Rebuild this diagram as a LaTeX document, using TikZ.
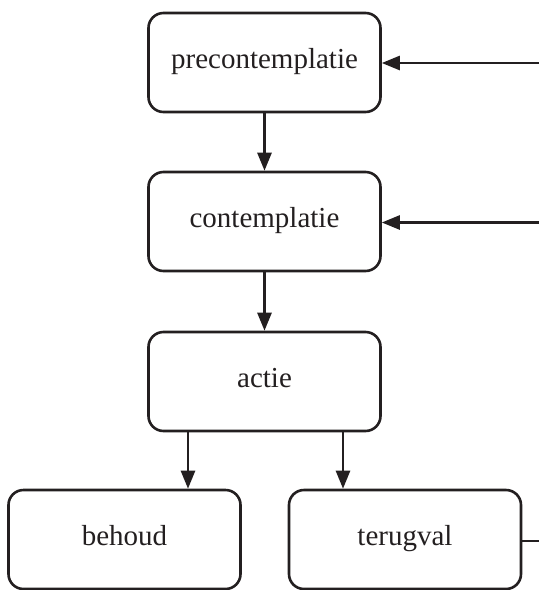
\documentclass[tikz,border=0pt]{standalone}
\usepackage{fontspec}
\setmainfont{Liberation Serif}
\usetikzlibrary{arrows.meta}
\definecolor{ink}{HTML}{231F20}
\begin{document}
\begin{tikzpicture}[x=1pt,y=-1pt,
  stage/.style={draw=ink, line width=2.6pt, rounded corners=15pt,
    minimum width=232pt, minimum height=99pt, inner sep=0pt,
    text height=20pt, text depth=8pt,
    text=ink, font=\fontsize{29}{34}\selectfont},
  link/.style={draw=ink, line width=2.6pt,
    -{Triangle[length=18pt,width=14pt]}}]
  \useasboundingbox (0,0) rectangle (539,590);
  \node[stage] (pre)  at (264.5,62.5)  {precontemplatie};
  \node[stage] (con)  at (264.5,221.5) {contemplatie};
  \node[stage] (act)  at (264.5,381.5) {actie};
  \node[stage] (beh)  at (124.5,539.5) {behoud};
  \node[stage] (ter)  at (405,539.5)   {terugval};
  % return lines entering from the right
  \coordinate (rpre) at (545,63);
  \coordinate (rcon) at (545,222.5);
  \coordinate (rter) at (545,541);
  \draw[link] (pre.south) -- (con.north);
  \draw[link] (con.south) -- (act.north);
  \draw[link] (act.south -| 188,0) -- (188,0 |- beh.north);
  \draw[link] (act.south -| 343,0) -- (343,0 |- ter.north);
  \draw[link] (rpre) -- (rpre -| pre.east);
  \draw[link] (rcon) -- (rcon -| con.east);
  \draw[draw=ink, line width=2.6pt] (ter.east |- rter) -- (rter);
\end{tikzpicture}
\end{document}
